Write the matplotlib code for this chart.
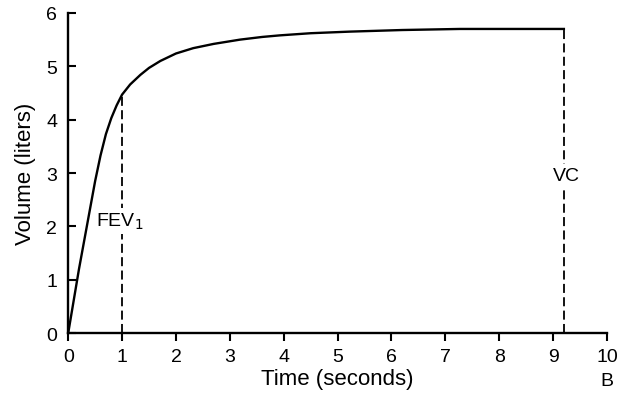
import matplotlib
matplotlib.use('Agg')
import matplotlib.pyplot as plt

plt.rcParams['font.family'] = ['Liberation Sans', 'DejaVu Sans']

# forced expiration: volume (liters) vs time (seconds)
t = [0, 0.1, 0.2, 0.3, 0.4, 0.5, 0.6, 0.7, 0.8, 0.9, 1.0, 1.15, 1.34, 1.5, 1.71, 2.0, 2.32,
     2.7, 3.19, 3.6, 3.93, 4.5, 5.23, 6.2, 7.27, 8.2, 9.2]
vol = [0, 0.6, 1.2, 1.75, 2.3, 2.85, 3.33, 3.73, 4.03, 4.27, 4.47, 4.66, 4.84, 4.97, 5.1, 5.24, 5.34,
       5.42, 5.5, 5.55, 5.58, 5.62, 5.65, 5.68, 5.70, 5.70, 5.70]
fev1_t, fev1_v = 1.0, 4.47
vc_t, vc_v = 9.2, 5.70

fig = plt.figure(figsize=(6.2, 4.1), dpi=100)
ax = fig.add_axes([0.11, 0.185, 0.869, 0.781])

ax.plot(t, vol, color='black', lw=1.7, solid_joinstyle='round')
dash = (0, (5, 2.4))
ax.plot([fev1_t, fev1_t], [0, fev1_v], color='black', lw=1.3, linestyle=dash)
ax.plot([vc_t, vc_t], [0, vc_v], color='black', lw=1.3, linestyle=dash)

bb = dict(facecolor='white', edgecolor='none', pad=2)
ax.text(0.52, 2.1, 'FEV$_1$', fontsize=14, ha='left', va='center', bbox=bb)
ax.text(9.24, 2.95, 'VC', fontsize=14, ha='center', va='center', bbox=bb)

ax.set_xlim(0, 10)
ax.set_ylim(0, 6)
ax.set_xticks(range(0, 11))
ax.set_yticks(range(0, 7))
ax.spines['top'].set_visible(False)
ax.spines['right'].set_visible(False)
ax.spines['left'].set_linewidth(1.7)
ax.spines['bottom'].set_linewidth(1.7)
ax.tick_params(axis='x', direction='out', length=6, width=1.5, labelsize=14, pad=5)
ax.tick_params(axis='y', direction='in', length=6, width=1.5, labelsize=14, pad=8)
ax.set_xlabel('Time (seconds)', fontsize=16, labelpad=2)
ax.set_ylabel('Volume (liters)', fontsize=16, labelpad=7)

fig.text(0.979, 0.07, 'B', fontsize=14, ha='center', va='center')

fig.savefig('out.png', dpi=100)
